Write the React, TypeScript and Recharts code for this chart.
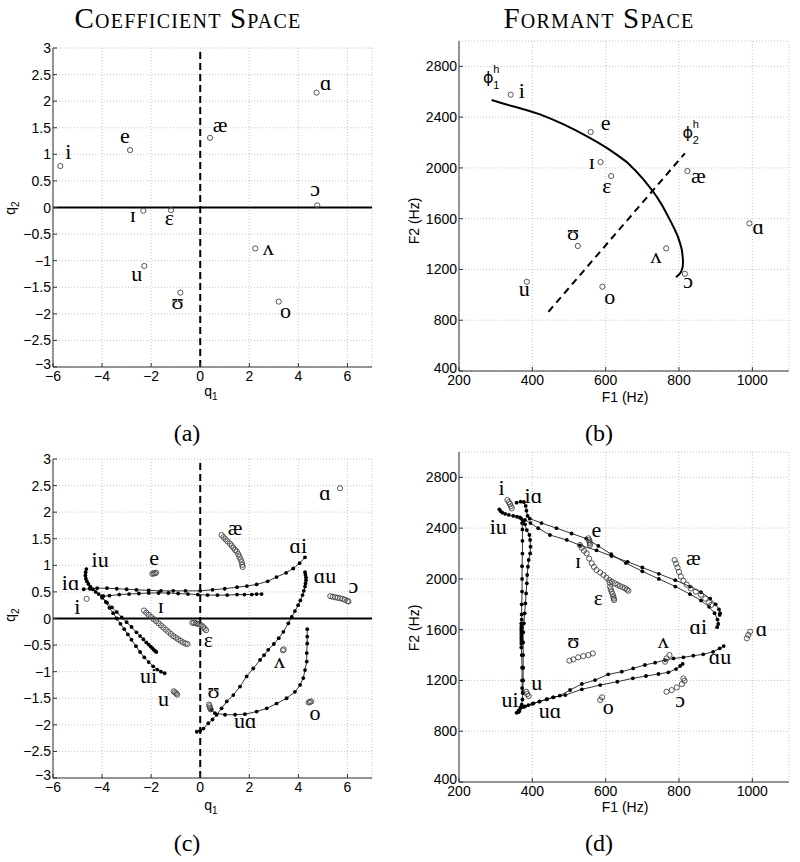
import React from 'react';
import { ScatterChart, Scatter, XAxis, YAxis, CartesianGrid, ReferenceLine } from 'recharts';

type P = { x: number; y: number };
type L = { x: number; y: number; label: string };

// ---------- axes ----------
const coeffDomainX: [number, number] = [-6, 7];
const coeffDomainY: [number, number] = [-3, 3];
const coeffTicksX = [-6, -4, -2, 0, 2, 4, 6];
const coeffTicksY = [-3, -2.5, -2, -1.5, -1, -0.5, 0, 0.5, 1, 1.5, 2, 2.5, 3];
const formantDomainX: [number, number] = [200, 1100];
const formantDomainY: [number, number] = [400, 3000];
const formantTicksX = [200, 400, 600, 800, 1000];
const formantTicksY = [400, 800, 1200, 1600, 2000, 2400, 2800];

// ---------- panel (a): coefficient space targets ----------
const targetsA: P[] = [
  { x: -5.7, y: 0.78 }, { x: -2.86, y: 1.08 }, { x: -2.32, y: -0.06 }, { x: -1.19, y: -0.05 },
  { x: 0.4, y: 1.31 }, { x: 4.74, y: 2.16 }, { x: 4.77, y: 0.04 }, { x: 2.24, y: -0.77 },
  { x: -0.81, y: -1.6 }, { x: -2.28, y: -1.1 }, { x: 3.2, y: -1.77 },
];
const labelsA: L[] = [
  { x: -5.38, y: 1.0, label: 'i' }, { x: -3.07, y: 1.31, label: 'e' }, { x: -2.75, y: -0.17, label: 'ɪ' },
  { x: -1.26, y: -0.24, label: 'ɛ' }, { x: 0.81, y: 1.52, label: 'æ' }, { x: 5.12, y: 2.3, label: 'ɑ' },
  { x: 4.68, y: 0.31, label: 'ɔ' }, { x: 2.77, y: -0.79, label: 'ʌ' }, { x: -0.92, y: -1.81, label: 'ʊ' },
  { x: -2.59, y: -1.29, label: 'u' }, { x: 3.48, y: -1.99, label: 'o' },
];

// ---------- panel (b): formant space targets ----------
const targetsB: P[] = [
  { x: 341, y: 2577 }, { x: 559, y: 2283 }, { x: 586, y: 2046 }, { x: 615, y: 1936 },
  { x: 823, y: 1976 }, { x: 992, y: 1563 }, { x: 524, y: 1385 }, { x: 765, y: 1366 },
  { x: 816, y: 1166 }, { x: 385, y: 1103 }, { x: 591, y: 1064 },
];
const labelsB: L[] = [
  { x: 371, y: 2590, label: 'i' }, { x: 600, y: 2338, label: 'e' }, { x: 562, y: 2031, label: 'ɪ' },
  { x: 603, y: 1839, label: 'ɛ' }, { x: 853, y: 1923, label: 'æ' }, { x: 1016, y: 1521, label: 'ɑ' },
  { x: 511, y: 1471, label: 'ʊ' }, { x: 737, y: 1292, label: 'ʌ' }, { x: 825, y: 1091, label: 'ɔ' },
  { x: 378, y: 1030, label: 'u' }, { x: 611, y: 967, label: 'o' },
];
const phi1Curve: P[] = [
  { x: 289, y: 2535 }, { x: 320, y: 2507 }, { x: 357, y: 2478 }, { x: 390, y: 2450 }, { x: 421, y: 2422 },
  { x: 453, y: 2385 }, { x: 484, y: 2345 }, { x: 516, y: 2300 }, { x: 548, y: 2250 }, { x: 576, y: 2205 },
  { x: 603, y: 2158 }, { x: 630, y: 2105 }, { x: 657, y: 2048 }, { x: 681, y: 1980 }, { x: 703, y: 1910 },
  { x: 722, y: 1840 }, { x: 739, y: 1775 }, { x: 754, y: 1705 }, { x: 766, y: 1641 }, { x: 778, y: 1575 },
  { x: 789, y: 1511 }, { x: 797, y: 1458 }, { x: 803, y: 1406 }, { x: 808, y: 1352 }, { x: 810, y: 1300 },
  { x: 811, y: 1260 }, { x: 810, y: 1221 }, { x: 807, y: 1190 }, { x: 803, y: 1169 }, { x: 792, y: 1138 },
];
const phi2Line: P[] = [{ x: 444, y: 867 }, { x: 816, y: 2115 }];
const phiLabels = [
  { x: 280, y: 2667, sub: '1' },
  { x: 824, y: 2233, sub: '2' },
];

// ---------- panel (c): coefficient trajectories ----------
const circlesC: P[] = [
  { x: 5.7, y: 2.45 },
  { x: 0.87, y: 1.57 }, { x: 0.95, y: 1.53 }, { x: 1.03, y: 1.49 }, { x: 1.11, y: 1.45 }, { x: 1.21, y: 1.41 },
  { x: 1.28, y: 1.37 }, { x: 1.35, y: 1.33 }, { x: 1.42, y: 1.29 }, { x: 1.49, y: 1.26 }, { x: 1.55, y: 1.21 },
  { x: 1.6, y: 1.16 }, { x: 1.65, y: 1.11 }, { x: 1.69, y: 1.06 }, { x: 1.71, y: 1.01 }, { x: 1.73, y: 0.97 },
  { x: -1.95, y: 0.84 }, { x: -1.9, y: 0.85 }, { x: -1.85, y: 0.85 }, { x: -1.8, y: 0.86 },
  { x: -4.63, y: 0.37 },
  { x: -2.29, y: 0.15 }, { x: -2.2, y: 0.11 }, { x: -2.1, y: 0.07 }, { x: -2.0, y: 0.03 }, { x: -1.9, y: -0.01 },
  { x: -1.8, y: -0.05 }, { x: -1.7, y: -0.09 }, { x: -1.6, y: -0.13 }, { x: -1.5, y: -0.17 }, { x: -1.4, y: -0.21 },
  { x: -1.3, y: -0.25 }, { x: -1.2, y: -0.29 }, { x: -1.1, y: -0.33 }, { x: -1.0, y: -0.36 }, { x: -0.9, y: -0.39 },
  { x: -0.8, y: -0.42 }, { x: -0.7, y: -0.45 }, { x: -0.6, y: -0.47 }, { x: -0.52, y: -0.48 },
  { x: -0.32, y: -0.08 }, { x: -0.25, y: -0.08 }, { x: -0.18, y: -0.09 }, { x: -0.1, y: -0.1 }, { x: -0.03, y: -0.11 },
  { x: 0.05, y: -0.13 }, { x: 0.12, y: -0.16 }, { x: 0.18, y: -0.19 }, { x: 0.24, y: -0.22 },
  { x: 5.3, y: 0.42 }, { x: 5.4, y: 0.41 }, { x: 5.5, y: 0.4 }, { x: 5.6, y: 0.39 }, { x: 5.7, y: 0.38 },
  { x: 5.8, y: 0.37 }, { x: 5.9, y: 0.35 }, { x: 6.0, y: 0.33 }, { x: 6.04, y: 0.32 },
  { x: 3.37, y: -0.6 }, { x: 3.4, y: -0.58 },
  { x: -1.08, y: -1.37 }, { x: -1.03, y: -1.39 }, { x: -0.98, y: -1.41 }, { x: -0.94, y: -1.43 },
  { x: 0.36, y: -1.62 }, { x: 0.38, y: -1.65 }, { x: 0.4, y: -1.68 }, { x: 0.43, y: -1.71 },
  { x: 4.42, y: -1.58 }, { x: 4.47, y: -1.57 }, { x: 4.52, y: -1.56 },
];
const trajAiC: P[] = [
  { x: -4.75, y: 0.55 }, { x: -4.5, y: 0.56 }, { x: -4.2, y: 0.57 }, { x: -3.8, y: 0.57 }, { x: -3.4, y: 0.56 },
  { x: -3.0, y: 0.55 }, { x: -2.6, y: 0.54 }, { x: -2.1, y: 0.53 }, { x: -1.6, y: 0.52 }, { x: -1.1, y: 0.52 },
  { x: -0.6, y: 0.52 }, { x: 0.0, y: 0.52 }, { x: 0.5, y: 0.54 }, { x: 1.0, y: 0.56 }, { x: 1.5, y: 0.59 },
  { x: 1.9, y: 0.61 }, { x: 2.3, y: 0.64 }, { x: 2.75, y: 0.7 }, { x: 3.11, y: 0.78 }, { x: 3.5, y: 0.86 },
  { x: 3.79, y: 0.94 }, { x: 4.05, y: 1.04 }, { x: 4.27, y: 1.15 },
];
const trajIaC: P[] = [
  { x: -3.95, y: 0.42 }, { x: -3.7, y: 0.43 }, { x: -3.3, y: 0.45 }, { x: -2.9, y: 0.46 }, { x: -2.5, y: 0.47 },
  { x: -2.1, y: 0.48 }, { x: -1.7, y: 0.48 }, { x: -1.3, y: 0.48 }, { x: -0.9, y: 0.47 }, { x: -0.5, y: 0.46 },
  { x: -0.1, y: 0.45 }, { x: 0.3, y: 0.44 }, { x: 0.7, y: 0.44 }, { x: 1.1, y: 0.44 }, { x: 1.5, y: 0.45 },
  { x: 1.8, y: 0.45 }, { x: 2.1, y: 0.45 }, { x: 2.3, y: 0.46 }, { x: 2.5, y: 0.46 },
];
const trajIuC: P[] = [
  { x: -4.64, y: 0.93 }, { x: -4.67, y: 0.87 }, { x: -4.68, y: 0.81 }, { x: -4.66, y: 0.75 }, { x: -4.62, y: 0.7 },
  { x: -4.56, y: 0.65 }, { x: -4.48, y: 0.6 }, { x: -4.38, y: 0.55 }, { x: -4.26, y: 0.5 }, { x: -4.14, y: 0.46 },
  { x: -4.0, y: 0.39 }, { x: -3.8, y: 0.3 }, { x: -3.6, y: 0.21 }, { x: -3.4, y: 0.12 }, { x: -3.2, y: 0.02 },
  { x: -3.0, y: -0.07 }, { x: -2.8, y: -0.16 }, { x: -2.6, y: -0.26 }, { x: -2.45, y: -0.33 }, { x: -2.32, y: -0.39 },
  { x: -2.2, y: -0.45 }, { x: -2.1, y: -0.49 }, { x: -2.02, y: -0.53 }, { x: -1.95, y: -0.56 }, { x: -1.89, y: -0.59 },
  { x: -1.84, y: -0.61 }, { x: -1.79, y: -0.63 },
];
const trajUiC: P[] = [
  { x: -4.0, y: 0.42 }, { x: -3.85, y: 0.31 }, { x: -3.7, y: 0.2 }, { x: -3.55, y: 0.1 }, { x: -3.4, y: 0.0 },
  { x: -3.25, y: -0.1 }, { x: -3.1, y: -0.2 }, { x: -2.95, y: -0.3 }, { x: -2.8, y: -0.4 }, { x: -2.62, y: -0.52 },
  { x: -2.45, y: -0.63 }, { x: -2.28, y: -0.73 }, { x: -2.1, y: -0.82 }, { x: -1.92, y: -0.9 }, { x: -1.75, y: -0.96 },
  { x: -1.6, y: -1.0 }, { x: -1.45, y: -1.03 },
];
const trajAuC: P[] = [
  { x: 4.27, y: 0.87 }, { x: 4.29, y: 0.82 }, { x: 4.31, y: 0.77 }, { x: 4.31, y: 0.72 }, { x: 4.29, y: 0.66 },
  { x: 4.27, y: 0.6 }, { x: 4.22, y: 0.52 }, { x: 4.17, y: 0.44 }, { x: 4.08, y: 0.34 }, { x: 3.99, y: 0.25 },
  { x: 3.86, y: 0.14 }, { x: 3.73, y: 0.03 }, { x: 3.59, y: -0.09 }, { x: 3.39, y: -0.25 }, { x: 3.2, y: -0.37 },
  { x: 3.0, y: -0.48 }, { x: 2.77, y: -0.59 }, { x: 2.6, y: -0.69 }, { x: 2.44, y: -0.78 }, { x: 2.16, y: -0.94 },
  { x: 1.89, y: -1.09 }, { x: 1.62, y: -1.28 }, { x: 1.35, y: -1.44 }, { x: 1.08, y: -1.56 }, { x: 0.87, y: -1.69 },
  { x: 0.67, y: -1.81 }, { x: 0.5, y: -1.9 }, { x: 0.33, y: -1.97 }, { x: 0.13, y: -2.07 }, { x: 0.0, y: -2.11 },
  { x: -0.14, y: -2.13 },
];
const trajUaC: P[] = [
  { x: 0.45, y: -1.72 }, { x: 0.6, y: -1.78 }, { x: 1.01, y: -1.81 }, { x: 1.42, y: -1.81 }, { x: 1.82, y: -1.8 },
  { x: 2.3, y: -1.75 }, { x: 2.71, y: -1.69 }, { x: 3.11, y: -1.6 }, { x: 3.52, y: -1.5 }, { x: 3.86, y: -1.38 },
  { x: 4.07, y: -1.25 }, { x: 4.2, y: -1.12 }, { x: 4.27, y: -0.97 }, { x: 4.34, y: -0.81 }, { x: 4.34, y: -0.65 },
  { x: 4.36, y: -0.47 }, { x: 4.36, y: -0.34 }, { x: 4.36, y: -0.2 },
];
const labelsC: L[] = [
  { x: 5.09, y: 2.32, label: 'ɑ' }, { x: 1.42, y: 1.66, label: 'æ' }, { x: 4.0, y: 1.32, label: 'ɑi' },
  { x: 5.09, y: 0.76, label: 'ɑu' }, { x: 6.24, y: 0.57, label: 'ɔ' }, { x: -1.88, y: 1.1, label: 'e' },
  { x: -4.08, y: 1.07, label: 'iu' }, { x: -5.28, y: 0.63, label: 'iɑ' }, { x: -5.01, y: 0.18, label: 'i' },
  { x: -1.61, y: 0.19, label: 'ɪ' }, { x: 0.33, y: -0.44, label: 'ɛ' }, { x: 3.23, y: -0.83, label: 'ʌ' },
  { x: -2.11, y: -1.11, label: 'ui' }, { x: -1.5, y: -1.56, label: 'u' }, { x: 0.54, y: -1.41, label: 'ʊ' },
  { x: 1.83, y: -1.97, label: 'uɑ' }, { x: 4.68, y: -1.82, label: 'o' },
];

// ---------- panel (d): formant trajectories ----------
const circlesD: P[] = [
  { x: 332, y: 2622 }, { x: 336, y: 2605 }, { x: 339, y: 2590 }, { x: 342, y: 2572 }, { x: 344, y: 2556 },
  { x: 553, y: 2320 }, { x: 555, y: 2305 }, { x: 556, y: 2293 }, { x: 557, y: 2280 }, { x: 557, y: 2267 },
  { x: 530, y: 2267 }, { x: 535, y: 2245 }, { x: 541, y: 2222 }, { x: 548, y: 2202 }, { x: 555, y: 2160 },
  { x: 562, y: 2123 }, { x: 568, y: 2095 }, { x: 575, y: 2070 }, { x: 585, y: 2050 }, { x: 594, y: 2031 },
  { x: 602, y: 2010 }, { x: 610, y: 1991 },
  { x: 617, y: 1978 }, { x: 625, y: 1965 }, { x: 632, y: 1954 }, { x: 639, y: 1944 }, { x: 646, y: 1935 },
  { x: 653, y: 1926 }, { x: 658, y: 1916 }, { x: 662, y: 1907 },
  { x: 611, y: 1970 }, { x: 612, y: 1939 }, { x: 614, y: 1919 }, { x: 616, y: 1899 }, { x: 619, y: 1880 },
  { x: 621, y: 1860 }, { x: 622, y: 1846 }, { x: 623, y: 1834 },
  { x: 788, y: 2149 }, { x: 792, y: 2120 }, { x: 796, y: 2090 }, { x: 800, y: 2055 }, { x: 805, y: 2020 },
  { x: 812, y: 1985 }, { x: 821, y: 1955 }, { x: 832, y: 1925 }, { x: 846, y: 1900 }, { x: 860, y: 1875 },
  { x: 872, y: 1845 }, { x: 882, y: 1815 }, { x: 888, y: 1795 },
  { x: 985, y: 1532 }, { x: 989, y: 1558 }, { x: 994, y: 1584 },
  { x: 501, y: 1356 }, { x: 512, y: 1366 }, { x: 525, y: 1382 }, { x: 539, y: 1392 }, { x: 553, y: 1400 }, { x: 565, y: 1413 },
  { x: 762, y: 1348 }, { x: 766, y: 1374 }, { x: 774, y: 1400 },
  { x: 383, y: 1111 }, { x: 386, y: 1093 }, { x: 390, y: 1077 },
  { x: 585, y: 1046 }, { x: 590, y: 1067 },
  { x: 766, y: 1111 }, { x: 780, y: 1124 }, { x: 794, y: 1145 }, { x: 808, y: 1172 }, { x: 815, y: 1198 }, { x: 812, y: 1216 },
];
const trajIuD: P[] = [
  { x: 310, y: 2548 }, { x: 313, y: 2535 }, { x: 318, y: 2522 }, { x: 326, y: 2512 }, { x: 336, y: 2504 },
  { x: 348, y: 2496 }, { x: 358, y: 2490 }, { x: 366, y: 2484 }, { x: 370, y: 2475 }, { x: 372, y: 2440 },
  { x: 373, y: 2390 }, { x: 373, y: 2300 }, { x: 373, y: 2200 }, { x: 372, y: 2100 }, { x: 372, y: 2000 },
  { x: 372, y: 1900 }, { x: 371, y: 1800 }, { x: 371, y: 1720 }, { x: 371, y: 1680 }, { x: 370, y: 1650 },
  { x: 370, y: 1630 }, { x: 370, y: 1610 }, { x: 370, y: 1590 }, { x: 370, y: 1570 }, { x: 370, y: 1550 },
  { x: 370, y: 1530 }, { x: 370, y: 1510 }, { x: 370, y: 1490 }, { x: 370, y: 1460 }, { x: 371, y: 1400 },
  { x: 372, y: 1300 }, { x: 372, y: 1200 }, { x: 372, y: 1140 }, { x: 374, y: 1110 },
];
const trajUiD: P[] = [
  { x: 357, y: 945 }, { x: 362, y: 962 }, { x: 367, y: 985 }, { x: 371, y: 1010 }, { x: 373, y: 1050 },
  { x: 374, y: 1100 }, { x: 375, y: 1200 }, { x: 375, y: 1300 }, { x: 375, y: 1400 }, { x: 375, y: 1500 },
  { x: 375, y: 1580 }, { x: 377, y: 1650 }, { x: 379, y: 1729 }, { x: 381, y: 1807 }, { x: 383, y: 1886 },
  { x: 385, y: 1965 }, { x: 386, y: 2031 }, { x: 388, y: 2096 }, { x: 390, y: 2149 }, { x: 394, y: 2201 },
  { x: 395, y: 2254 }, { x: 394, y: 2307 }, { x: 392, y: 2346 }, { x: 385, y: 2385 }, { x: 380, y: 2430 },
  { x: 376, y: 2460 },
];
const trajIaD: P[] = [
  { x: 357, y: 2601 }, { x: 368, y: 2609 }, { x: 377, y: 2606 }, { x: 382, y: 2575 }, { x: 384, y: 2538 },
  { x: 387, y: 2496 }, { x: 393, y: 2475 }, { x: 425, y: 2440 }, { x: 466, y: 2400 }, { x: 507, y: 2358 },
  { x: 547, y: 2318 }, { x: 580, y: 2260 }, { x: 615, y: 2195 }, { x: 655, y: 2125 }, { x: 700, y: 2060 },
  { x: 745, y: 2000 }, { x: 790, y: 1940 }, { x: 830, y: 1880 }, { x: 860, y: 1830 }, { x: 882, y: 1780 },
  { x: 897, y: 1730 }, { x: 905, y: 1680 }, { x: 907, y: 1645 }, { x: 904, y: 1620 },
];
const trajAiD: P[] = [
  { x: 911, y: 1716 }, { x: 912, y: 1730 }, { x: 909, y: 1760 }, { x: 900, y: 1800 }, { x: 885, y: 1845 },
  { x: 860, y: 1895 }, { x: 830, y: 1940 }, { x: 790, y: 1990 }, { x: 745, y: 2040 }, { x: 700, y: 2090 },
  { x: 660, y: 2135 }, { x: 616, y: 2180 }, { x: 575, y: 2225 }, { x: 530, y: 2265 }, { x: 494, y: 2307 },
  { x: 448, y: 2346 }, { x: 416, y: 2400 }, { x: 395, y: 2440 }, { x: 380, y: 2465 },
];
const trajUaD: P[] = [
  { x: 362, y: 950 }, { x: 375, y: 990 }, { x: 389, y: 1005 }, { x: 403, y: 1020 }, { x: 419, y: 1033 },
  { x: 439, y: 1051 }, { x: 457, y: 1067 }, { x: 475, y: 1080 }, { x: 503, y: 1125 }, { x: 535, y: 1172 },
  { x: 571, y: 1203 }, { x: 607, y: 1248 }, { x: 644, y: 1269 }, { x: 675, y: 1295 }, { x: 707, y: 1322 },
  { x: 735, y: 1340 }, { x: 762, y: 1361 }, { x: 785, y: 1374 }, { x: 812, y: 1382 }, { x: 839, y: 1395 },
  { x: 866, y: 1406 }, { x: 893, y: 1426 }, { x: 911, y: 1453 }, { x: 922, y: 1471 },
];
const trajAuD: P[] = [
  { x: 810, y: 1330 }, { x: 803, y: 1314 }, { x: 792, y: 1290 }, { x: 771, y: 1264 }, { x: 744, y: 1251 },
  { x: 710, y: 1235 }, { x: 674, y: 1217 }, { x: 632, y: 1190 }, { x: 585, y: 1164 }, { x: 535, y: 1130 },
  { x: 490, y: 1085 }, { x: 457, y: 1067 }, { x: 440, y: 1052 }, { x: 420, y: 1035 }, { x: 400, y: 1015 },
  { x: 380, y: 995 }, { x: 365, y: 960 },
];
const labelsD: L[] = [
  { x: 316, y: 2700, label: 'i' }, { x: 403, y: 2635, label: 'iɑ' }, { x: 307, y: 2396, label: 'iu' },
  { x: 575, y: 2372, label: 'e' }, { x: 525, y: 2128, label: 'ɪ' }, { x: 839, y: 2149, label: 'æ' },
  { x: 580, y: 1834, label: 'ɛ' }, { x: 853, y: 1603, label: 'ɑi' }, { x: 1025, y: 1592, label: 'ɑ' },
  { x: 512, y: 1492, label: 'ʊ' }, { x: 757, y: 1498, label: 'ʌ' }, { x: 912, y: 1366, label: 'ɑu' },
  { x: 412, y: 1164, label: 'u' }, { x: 339, y: 1033, label: 'ui' }, { x: 448, y: 946, label: 'uɑ' },
  { x: 607, y: 972, label: 'o' }, { x: 803, y: 1033, label: 'ɔ' },
];

// ---------- styles ----------
const SANS = "'Liberation Sans', Arial, Helvetica, sans-serif";
const SERIF = "'Liberation Serif', 'DejaVu Serif', 'Times New Roman', serif";

const fmt = (v: number) => (v < 0 ? '\u2212' + String(Math.abs(v)) : String(v));

const OpenCircle = (p: any) =>
  p.cx == null ? <g /> : <circle cx={p.cx} cy={p.cy} r={2.6} fill="none" stroke="#444" strokeWidth={0.9} />;
const SmallDot = (p: any) =>
  p.cx == null ? <g /> : <circle cx={p.cx} cy={p.cy} r={1.9} fill="#000" />;
const NoMark = () => <g />;
const GlyphLabel = (p: any) => {
  if (p.cx == null) return <g />;
  const t = (p.payload && p.payload.label) || p.label;
  return (
    <text x={p.cx} y={p.cy + 5} textAnchor="middle" fontFamily={SERIF} fontSize={22} fill="#000">
      {t}
    </text>
  );
};
const PhiLabel = (p: any) => {
  if (p.cx == null) return <g />;
  const s = (p.payload && p.payload.sub) || p.sub;
  return (
    <g>
      <text x={p.cx} y={p.cy} textAnchor="middle" fontFamily="'DejaVu Sans', sans-serif" fontSize={16} fill="#000">ϕ</text>
      <text x={p.cx + 5} y={p.cy - 10} fontFamily={SANS} fontSize={11} fill="#000">h</text>
      <text x={p.cx + 5} y={p.cy + 6} fontFamily={SANS} fontSize={11} fill="#000">{s}</text>
    </g>
  );
};

const TICK_FS = 14;
const makeXTick = () => (p: any) => (
  <text x={p.x} y={p.y} dy={11} textAnchor="middle" fontFamily={SANS} fontSize={TICK_FS} fill="#000">
    {fmt(p.payload.value)}
  </text>
);
const makeYTick = (minVal: number) => (p: any) => (
  <text x={p.x} y={p.y} dy={p.payload.value === minVal ? 1.5 : 5} textAnchor="end" fontFamily={SANS} fontSize={TICK_FS} fill="#000">
    {fmt(p.payload.value)}
  </text>
);

const YW = 50, MT = 10, MR = 10, XH = 40;

function Panel(props: {
  plotLeft: number; plotTop: number; plotW: number; plotH: number;
  xDomain: [number, number]; yDomain: [number, number]; xTicks: number[]; yTicks: number[];
  zeroLines?: boolean; children?: React.ReactNode;
}) {
  const { plotLeft, plotTop, plotW, plotH, xDomain, yDomain, xTicks, yTicks, zeroLines } = props;
  return (
    <div style={{ position: 'absolute', left: plotLeft - YW, top: plotTop - MT }}>
      <ScatterChart width={YW + plotW + MR} height={MT + plotH + XH} margin={{ top: MT, right: MR, bottom: 0, left: 0 }}>
        <CartesianGrid stroke="#b5b5b5" strokeDasharray="1 2" strokeWidth={0.8} />
        <XAxis xAxisId={0} dataKey="x" type="number" domain={xDomain} ticks={xTicks} allowDataOverflow interval={0}
          height={XH} tickSize={-4} tickMargin={7} tick={makeXTick()} stroke="#333" />
        <XAxis xAxisId="top" orientation="top" type="number" domain={xDomain} ticks={xTicks} allowDataOverflow interval={0}
          height={0} tickSize={-4} tick={false} stroke="#333" />
        <YAxis yAxisId={0} dataKey="y" type="number" domain={yDomain} ticks={yTicks} allowDataOverflow interval={0}
          width={YW} tickSize={-4} tickMargin={6} tick={makeYTick(yDomain[0])} stroke="#333" />
        <YAxis yAxisId="right" orientation="right" type="number" domain={yDomain} ticks={yTicks} allowDataOverflow interval={0}
          width={0} tickSize={-4} tick={false} stroke="#333" />
        {zeroLines ? <ReferenceLine y={0} stroke="#000" strokeWidth={2.2} /> : null}
        {zeroLines ? <ReferenceLine x={0} stroke="#000" strokeWidth={2} strokeDasharray="7 4" /> : null}
        {props.children}
      </ScatterChart>
    </div>
  );
}

const traj = (name: string, data: P[]) => (
  <Scatter key={name} name={name} data={data} fill="#000" shape={SmallDot} line={{ stroke: '#000', strokeWidth: 0.8 }}
    isAnimationActive={false} />
);

export default function App() {
  return (
    <div style={{ position: 'absolute', left: 0, top: 0, width: 800, height: 862, background: '#fff' }}>
      <svg width={800} height={862} style={{ position: 'absolute', left: 0, top: 0 }}>
        <text x={188} y={28} textAnchor="middle" fontFamily={SERIF} fontSize={29} letterSpacing={1.2} style={{ fontVariant: 'small-caps' }}>Coefficient Space</text>
        <text x={599} y={28} textAnchor="middle" fontFamily={SERIF} fontSize={29} letterSpacing={1.2} style={{ fontVariant: 'small-caps' }}>Formant Space</text>
        <text x={187} y={441} textAnchor="middle" fontFamily={SERIF} fontSize={24}>(a)</text>
        <text x={599} y={441} textAnchor="middle" fontFamily={SERIF} fontSize={24}>(b)</text>
        <text x={187} y={851} textAnchor="middle" fontFamily={SERIF} fontSize={24}>(c)</text>
        <text x={599} y={851} textAnchor="middle" fontFamily={SERIF} fontSize={24}>(d)</text>
        <text x={211} y={396} textAnchor="middle" fontFamily={SANS} fontSize={14}>q<tspan fontSize={10} dy={4}>1</tspan></text>
        <text x={211} y={810} textAnchor="middle" fontFamily={SANS} fontSize={14}>q<tspan fontSize={10} dy={4}>1</tspan></text>
        <text x={15} y={208} textAnchor="middle" fontFamily={SANS} fontSize={14} transform="rotate(-90 15 208)">q<tspan fontSize={10} dy={4}>2</tspan></text>
        <text x={15} y={615} textAnchor="middle" fontFamily={SANS} fontSize={14} transform="rotate(-90 15 615)">q<tspan fontSize={10} dy={4}>2</tspan></text>
        <text x={625} y={402} textAnchor="middle" fontFamily={SANS} fontSize={14}>F1 (Hz)</text>
        <text x={625} y={812} textAnchor="middle" fontFamily={SANS} fontSize={14}>F1 (Hz)</text>
        <text x={419} y={221} textAnchor="middle" fontFamily={SANS} fontSize={14} transform="rotate(-90 419 221)">F2 (Hz)</text>
        <text x={419} y={628} textAnchor="middle" fontFamily={SANS} fontSize={14} transform="rotate(-90 419 628)">F2 (Hz)</text>
      </svg>

      <Panel plotLeft={53} plotTop={48} plotW={319} plotH={319} xDomain={coeffDomainX} yDomain={coeffDomainY}
        xTicks={coeffTicksX} yTicks={coeffTicksY} zeroLines>
        <Scatter data={targetsA} shape={OpenCircle} isAnimationActive={false} />
        <Scatter data={labelsA} shape={GlyphLabel} isAnimationActive={false} />
      </Panel>

      <Panel plotLeft={459} plotTop={41} plotW={330} plotH={330} xDomain={formantDomainX} yDomain={formantDomainY}
        xTicks={formantTicksX} yTicks={formantTicksY}>
        <Scatter data={phi1Curve} fill="#000" shape={NoMark} line={{ stroke: '#000', strokeWidth: 2 }} isAnimationActive={false} />
        <Scatter data={phi2Line} fill="#000" shape={NoMark} line={{ stroke: '#000', strokeWidth: 2, strokeDasharray: '7 5' }} isAnimationActive={false} />
        <Scatter data={targetsB} shape={OpenCircle} isAnimationActive={false} />
        <Scatter data={labelsB} shape={GlyphLabel} isAnimationActive={false} />
        <Scatter data={phiLabels} shape={PhiLabel} isAnimationActive={false} />
      </Panel>

      <Panel plotLeft={53} plotTop={459} plotW={319} plotH={319} xDomain={coeffDomainX} yDomain={coeffDomainY}
        xTicks={coeffTicksX} yTicks={coeffTicksY} zeroLines>
        {traj('ai', trajAiC)}
        {traj('ia', trajIaC)}
        {traj('iu', trajIuC)}
        {traj('ui', trajUiC)}
        {traj('au', trajAuC)}
        {traj('ua', trajUaC)}
        <Scatter data={circlesC} shape={OpenCircle} isAnimationActive={false} />
        <Scatter data={labelsC} shape={GlyphLabel} isAnimationActive={false} />
      </Panel>

      <Panel plotLeft={459} plotTop={452} plotW={330} plotH={330} xDomain={formantDomainX} yDomain={formantDomainY}
        xTicks={formantTicksX} yTicks={formantTicksY}>
        {traj('iu', trajIuD)}
        {traj('ui', trajUiD)}
        {traj('ia', trajIaD)}
        {traj('ai', trajAiD)}
        {traj('ua', trajUaD)}
        {traj('au', trajAuD)}
        <Scatter data={circlesD} shape={OpenCircle} isAnimationActive={false} />
        <Scatter data={labelsD} shape={GlyphLabel} isAnimationActive={false} />
      </Panel>
    </div>
  );
}
